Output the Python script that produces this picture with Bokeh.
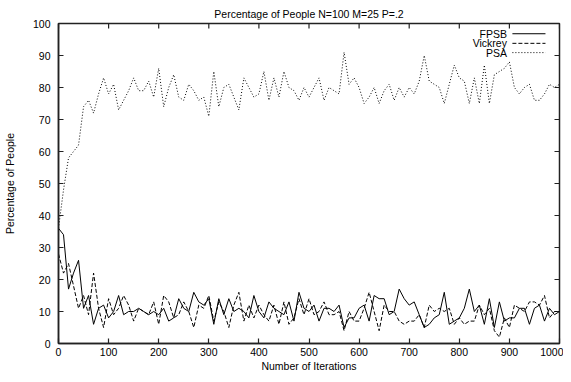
import math
from bokeh.plotting import figure
from bokeh.models import Range1d, FixedTicker, ColumnDataSource
from bokeh.embed import file_html
from bokeh.resources import INLINE
from bokeh.core.properties import value

iterations = list(range(0, 1001, 10))
fpsb = [36, 34, 17, 22, 26, 11, 15, 6, 11, 12,
        8, 10, 15, 9, 10, 10, 11, 10, 9, 10,
        9, 11, 7, 8, 14, 11, 10, 16, 13, 12,
        14, 6, 14, 9, 14, 10, 11, 10, 8, 15,
        10, 8, 13, 11, 10, 9, 13, 7, 16, 11,
        10, 12, 7, 11, 11, 10, 12, 5, 8, 8,
        11, 12, 7, 15, 14, 14, 9, 10, 17, 14,
        12, 13, 9, 5, 6, 8, 9, 16, 6, 7,
        8, 11, 17, 10, 12, 6, 14, 5, 13, 7,
        8, 8, 11, 11, 6, 11, 12, 7, 11, 9, 10]
vickrey = [28, 22, 25, 18, 11, 15, 9, 22, 11, 5,
           14, 9, 11, 15, 12, 7, 11, 10, 9, 13,
           6, 15, 13, 8, 9, 13, 10, 5, 12, 11,
           15, 7, 13, 10, 5, 12, 16, 7, 12, 8,
           12, 9, 7, 12, 6, 13, 6, 8, 14, 9,
           14, 9, 10, 13, 9, 9, 10, 4, 10, 7,
           7, 11, 16, 10, 4, 12, 10, 10, 7, 6,
           7, 7, 9, 5, 12, 10, 11, 10, 11, 6,
           8, 6, 7, 7, 12, 9, 11, 4, 2, 8,
           5, 12, 11, 10, 13, 13, 12, 15, 8, 10, 10]
psa = [36, 48, 58, 60, 62, 74, 76, 72, 78, 83,
       78, 81, 73, 76, 79, 83, 79, 79, 82, 77,
       86, 74, 80, 84, 77, 76, 81, 79, 76, 77,
       71, 85, 74, 80, 81, 77, 73, 83, 80, 77,
       78, 85, 76, 83, 77, 85, 80, 79, 76, 80,
       77, 80, 83, 76, 80, 79, 78, 91, 81, 83,
       80, 75, 77, 80, 75, 79, 81, 76, 80, 77,
       80, 78, 82, 90, 82, 81, 80, 75, 81, 87,
       83, 82, 75, 83, 75, 87, 75, 84, 85, 86,
       88, 80, 78, 80, 81, 76, 76, 78, 81, 80, 81]

series_names = ["FPSB", "Vickrey", "PSA"]
series_dash = ["solid", "4 2", "1 2"]
x_ticks = list(range(0, 1001, 100))
y_ticks = list(range(0, 101, 10))
x_max = 1000
y_max = 100

FONT = "Liberation Sans"
FS = "10.5px"
AX = "#222222"

p = figure(width=563, height=374, output_backend="svg", toolbar_location=None,
           x_range=Range1d(0, x_max), y_range=Range1d(0, y_max),
           min_border_left=51, min_border_right=4, min_border_top=23, min_border_bottom=30,
           title="Percentage of People N=100 M=25 P=.2")
p.title.text_font = FONT
p.title.text_font_size = FS
p.title.text_font_style = "normal"
p.title.align = "center"
p.title.text_color = "black"
p.title.standoff = 7

p.grid.visible = False
p.background_fill_color = "white"
p.border_fill_color = "white"
p.outline_line_color = AX
p.outline_line_width = 1.5

for ax in (p.xaxis[0], p.yaxis[0]):
    ax.major_tick_in = 5
    ax.major_tick_out = 0
    ax.minor_tick_line_color = None
    ax.axis_line_color = AX
    ax.axis_line_width = 1.5
    ax.major_tick_line_color = AX
    ax.major_tick_line_width = 1.2
    ax.major_label_text_font = FONT
    ax.major_label_text_font_size = FS
    ax.major_label_text_color = "black"
    ax.axis_label_text_font = FONT
    ax.axis_label_text_font_size = FS
    ax.axis_label_text_font_style = "normal"
    ax.axis_label_text_color = "black"

p.xaxis[0].ticker = FixedTicker(ticks=x_ticks)
p.yaxis[0].ticker = FixedTicker(ticks=y_ticks)
p.xaxis[0].axis_label = "Number of Iterations"
p.yaxis[0].axis_label = "Percentage of People"
p.xaxis[0].major_label_standoff = 4
p.yaxis[0].major_label_standoff = 8
p.xaxis[0].axis_label_standoff = 1
p.yaxis[0].axis_label_standoff = 14

# mirrored inward ticks on top and right borders
p.ray(x=x_ticks, y=[y_max] * len(x_ticks), length=5, angle=-math.pi / 2,
      length_units="screen", line_color=AX, line_width=1.2)
p.ray(x=[x_max] * len(y_ticks), y=y_ticks, length=5, angle=math.pi,
      length_units="screen", line_color=AX, line_width=1.2)

src = ColumnDataSource(dict(x=iterations, FPSB=fpsb, Vickrey=vickrey, PSA=psa))
for name, dash in zip(series_names, series_dash):
    p.line("x", name, source=src, line_color="black", line_width=1, line_dash=dash)

# gnuplot-style key (text right-aligned, sample line to the right)
key_y = [96.8, 93.8, 90.9]
key_src = ColumnDataSource(dict(x=[895] * 3, y=key_y, t=series_names))
p.text("x", "y", text="t", source=key_src, text_align="right", text_baseline="middle",
       text_font=value(FONT), text_font_size=FS, text_color="black")
for name, dash, ky in zip(series_names, series_dash, key_y):
    p.line([906, 972], [ky, ky], line_color="black", line_width=1, line_dash=dash)

open("out.html", "w").write(file_html(p, INLINE))
